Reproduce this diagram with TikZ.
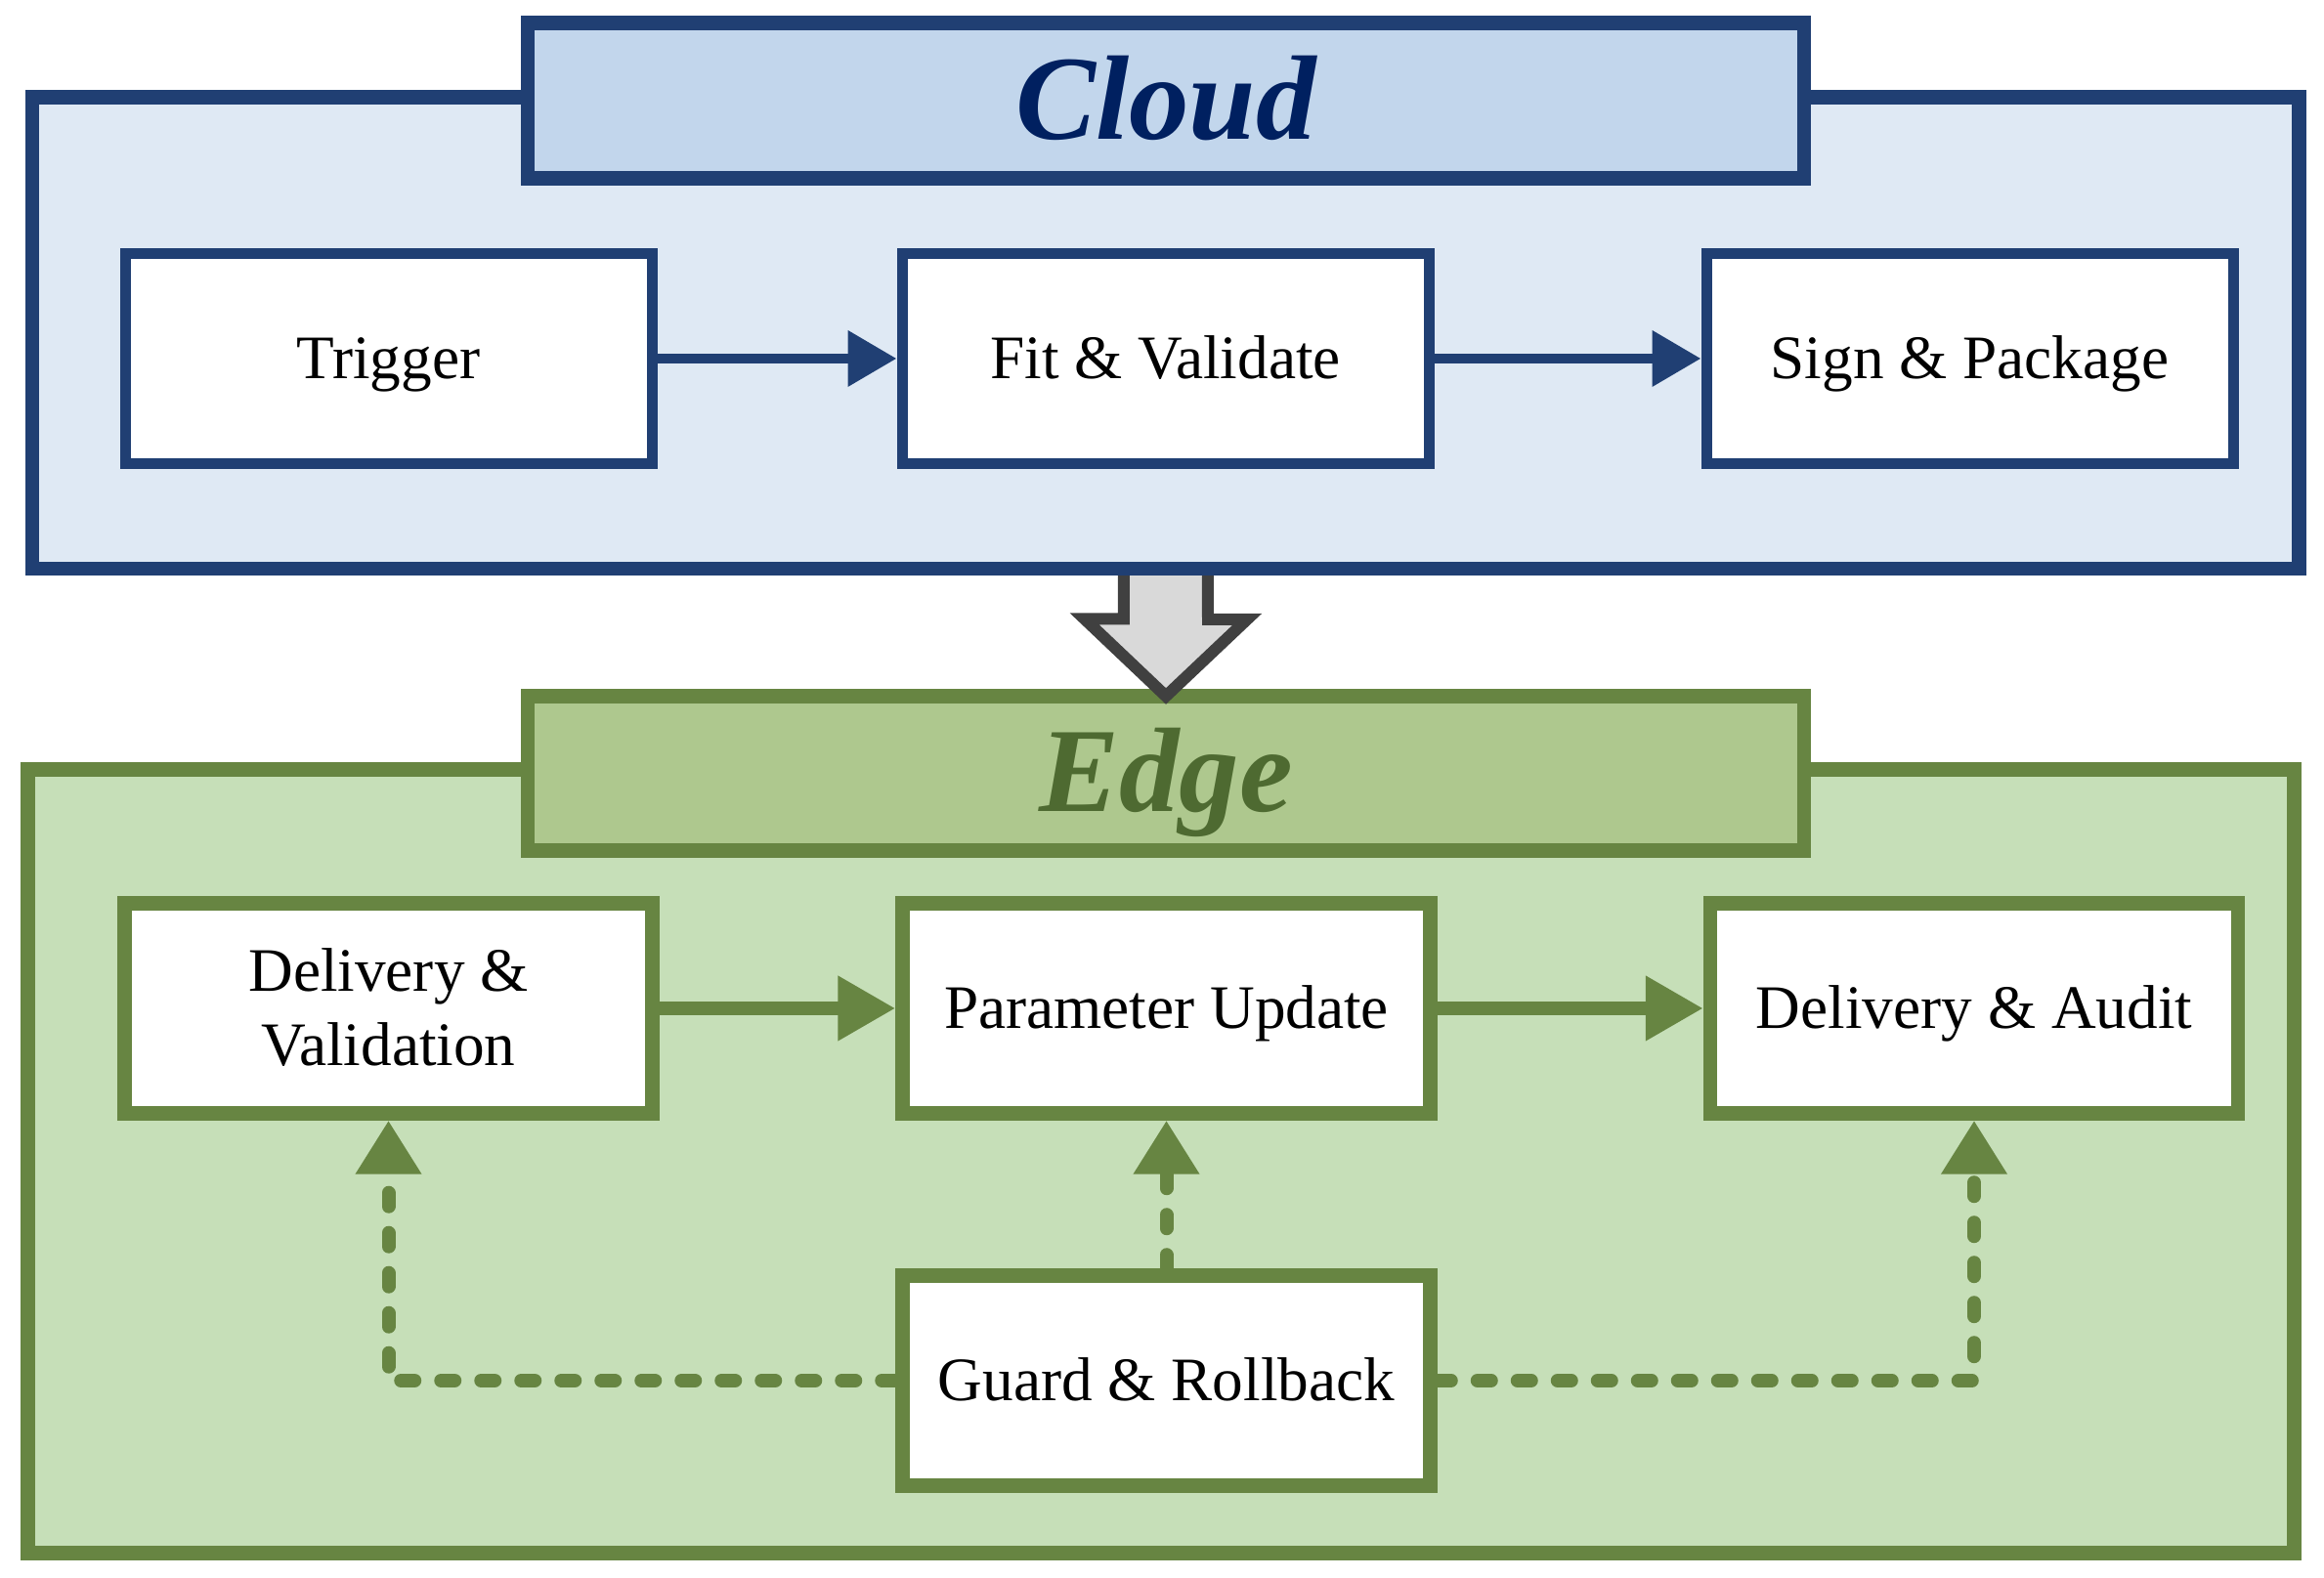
\documentclass[tikz,border=0pt]{standalone}
\usepackage{fontspec}
\setmainfont{Liberation Serif}
\usetikzlibrary{arrows.meta}

\definecolor{cloudline}{RGB}{32,63,115}
\definecolor{cloudfill}{RGB}{223,233,244}
\definecolor{cloudhead}{RGB}{194,214,236}
\definecolor{cloudtext}{RGB}{0,32,96}
\definecolor{edgeline}{RGB}{103,133,66}
\definecolor{edgefill}{RGB}{198,223,184}
\definecolor{edgehead}{RGB}{174,200,142}
\definecolor{edgetext}{RGB}{78,106,49}
\definecolor{arrowfill}{RGB}{217,217,217}
\definecolor{arrowline}{RGB}{64,64,64}

\begin{document}
\begin{tikzpicture}[>=stealth, thick,
    zone/.style={draw, line width=0.145cm},
    head/.style={draw, line width=0.145cm, minimum width=13.06cm, minimum height=1.59cm,
        font=\fontsize{35}{42}\selectfont\bfseries\itshape, text height=24.5pt, text depth=2.1pt},
    box/.style={draw, fill=white, align=center, font=\fontsize{18}{21.6}\selectfont,
        text height=12.6pt, text depth=0.9pt},
    cloudbox/.style={box, draw=cloudline, line width=0.11cm, minimum width=5.39cm, minimum height=2.145cm},
    edgebox/.style={box, draw=edgeline, line width=0.145cm, minimum width=5.40cm, minimum height=2.15cm},
    cloudflow/.style={-{Triangle[length=0.50cm, width=0.55cm]}, draw=cloudline, line width=0.107cm},
    edgeflow/.style={-{Triangle[length=0.59cm, width=0.63cm]}, draw=edgeline, line width=0.14cm},
    guardflow/.style={-{Triangle[length=0.55cm, width=0.64cm]}, draw=edgeline, line width=0.14cm,
        line cap=round, dash pattern=on 0.14cm off 0.27cm},
    bigarrow/.style={fill=arrowfill, draw=arrowline, line width=0.12cm}]

    \useasboundingbox (0,0) rectangle (23.78,16.15);

    % Cloud layer
    \node[zone, draw=cloudline, fill=cloudfill, minimum width=23.195cm, minimum height=4.825cm] (cloud) at (11.9275, 12.7425) {};
    \node[head, draw=cloudline, fill=cloudhead, text=cloudtext] (cloudtitle) at (11.93, 15.12) {Cloud};

    \node[cloudbox] (trigger) at (3.975, 12.48) {Trigger};
    \node[cloudbox] (fit) at (11.925, 12.48) {Fit \& Validate};
    \node[cloudbox] (sign) at (20.155, 12.48) {Sign \& Package};

    \draw[cloudflow] (trigger.east) -- (fit.west);
    \draw[cloudflow] (fit.east) -- (sign.west);

    % Edge layer
    \node[zone, draw=edgeline, fill=edgefill, minimum width=23.19cm, minimum height=8.02cm] (edge) at (11.88, 4.265) {};
    \node[head, draw=edgeline, fill=edgehead, text=edgetext, minimum height=1.58cm] (edgetitle) at (11.93, 8.235) {Edge};

    \node[edgebox, text height=34.2pt] (delival) at (3.975, 5.83) {Delivery \&\\Validation};
    \node[edgebox] (param) at (11.935, 5.83) {Parameter Update};
    \node[edgebox] (audit) at (20.20, 5.83) {Delivery \& Audit};
    \node[edgebox] (guard) at (11.935, 2.02) {Guard \& Rollback};

    \draw[edgeflow] (delival.east) -- (param.west);
    \draw[edgeflow] (param.east) -- (audit.west);

    % Guard feedback
    \draw[guardflow] (guard.west) -| (delival.south);
    \draw[guardflow] (guard.north) -- (param.south);
    \draw[guardflow] (guard.east) -| (audit.south);

    % Cloud to edge
    \filldraw[bigarrow] ([xshift=-0.43cm]cloud.south) -- ++(0,-0.4425) -- ++(-0.40,0)
        -- ([yshift=-0.0725cm]edgetitle.north) -- ++(0.83,0.785) -- ++(-0.40,0)
        -- ([xshift=0.43cm]cloud.south);
\end{tikzpicture}
\end{document}
